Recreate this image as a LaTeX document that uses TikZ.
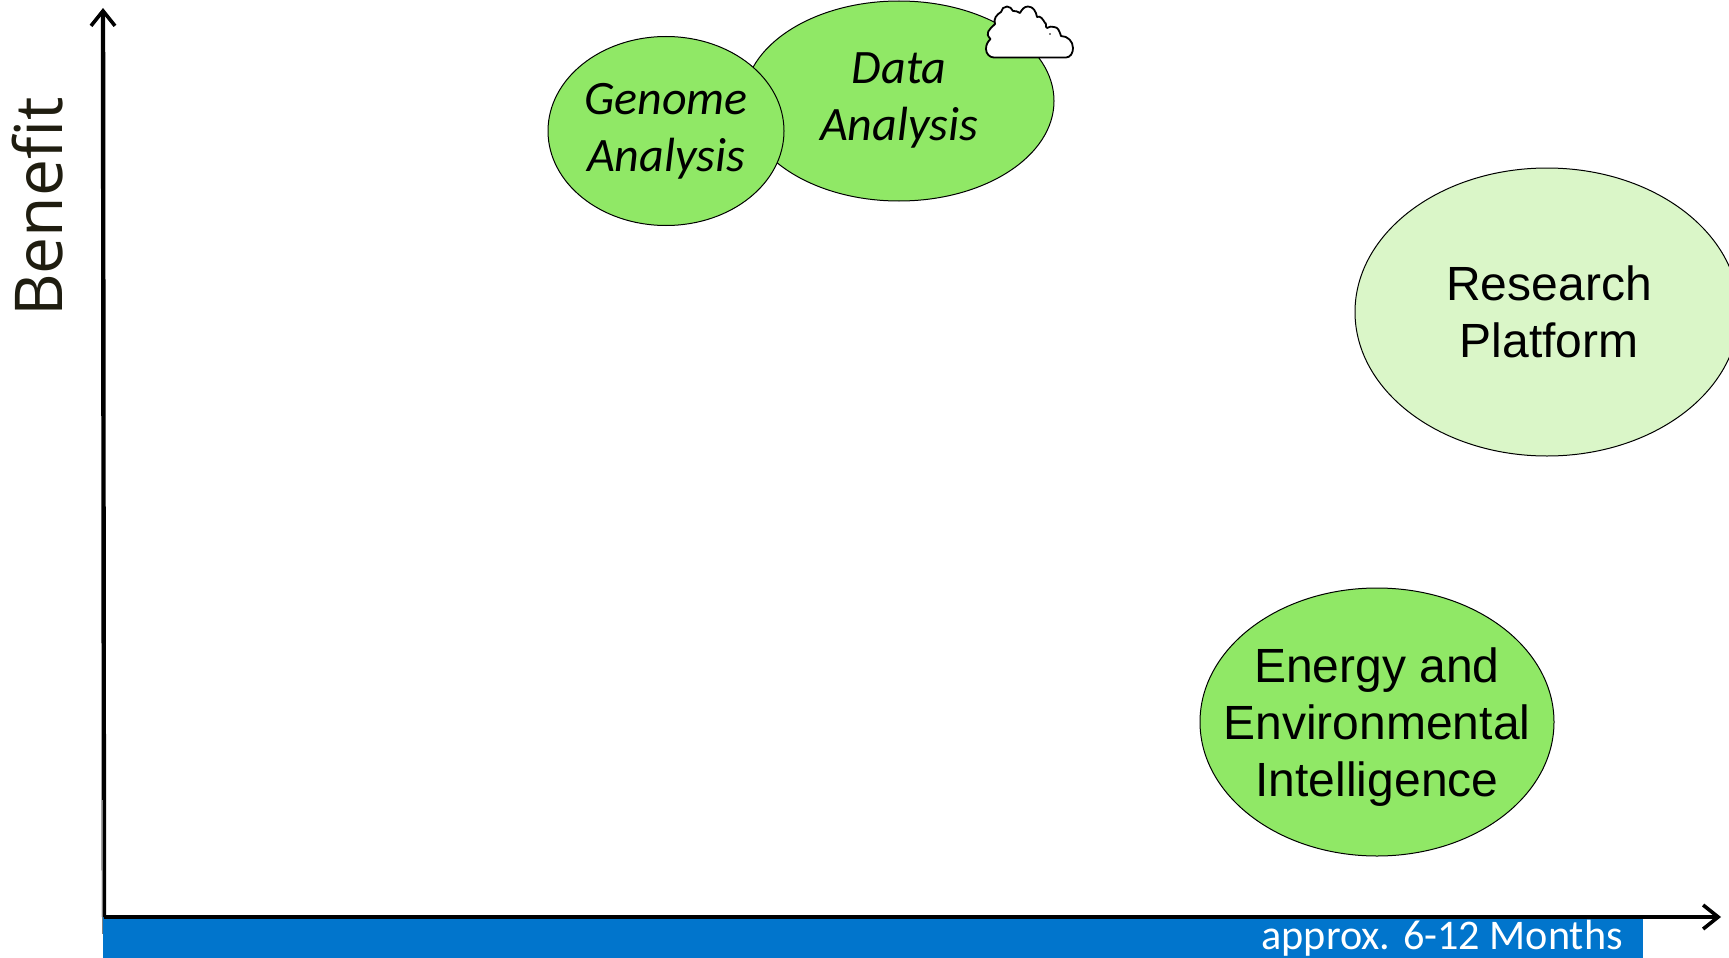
\documentclass[tikz,border=0pt]{standalone}
\usepackage{fontspec}
\setmainfont{Liberation Sans}
\newfontfamily\calib{Carlito}
\newfontfamily\openf{Open Sans}
\usetikzlibrary{arrows.meta,shapes.geometric}
\definecolor{bubgreen}{HTML}{90E866}
\definecolor{bubpale}{HTML}{DAF6C8}
\definecolor{barblue}{HTML}{0175CC}
\definecolor{labdark}{HTML}{1F1D10}
\tikzset{
  bubble/.style={ellipse,draw=black,line width=1pt,inner xsep=-40pt,inner ysep=-10pt,align=center},
  axisline/.style={line width=4.4pt,-{Straight Barb[length=15pt,width=24pt,line width=3.6pt]}},
  arialtext/.style={font=\fontsize{48}{57}\selectfont},
  calibtext/.style={font=\calib\itshape\fontsize{48}{57}\selectfont},
}
\begin{document}
\begin{tikzpicture}[x=1pt,y=-1pt]
\useasboundingbox (0,0) rectangle (1729,958);
\clip (0,0) rectangle (1729,958);
\node[draw=none,fill=barblue,minimum width=1540pt,minimum height=41pt,inner sep=0pt,anchor=north west] (bar) at (103,917) {};
\node[text=white,font=\calib\fontsize{42.2}{48}\selectfont,anchor=base east,inner sep=0pt] (months) at (1623,949.5) {approx. 6-12 Months};
\coordinate (o) at (104,917);
\coordinate (ytip) at (103,8);
\coordinate (xtip) at (1721,917);
\draw[axisline] (o) -- (ytip);
\draw[axisline] (o) -- (xtip);
\draw[gray,line width=1pt] (102,800) -- (102,934);
\node[rotate=90,text=labdark,font=\openf\fontsize{66}{70}\selectfont,anchor=base,inner sep=0pt] (benefit) at (62,207) {Benefit};
\node[bubble,fill=bubgreen,minimum width=310pt,minimum height=200pt,calibtext] (data) at (899,101) {\begin{tabular}{@{}c@{}}Data\\Analysis\end{tabular}};
\node[bubble,fill=bubgreen,minimum width=236pt,minimum height=189pt,calibtext] (genome) at (666,131) {Genome\\Analysis};
\node[bubble,fill=bubpale,minimum width=384pt,minimum height=288pt,arialtext] (research) at (1547,312) {\hspace*{4pt}Research\\\hspace*{4pt}Platform};
\node[bubble,fill=bubgreen,minimum width=354pt,minimum height=268pt,arialtext] (energy) at (1377,722) {\begin{tabular}{@{}c@{}}\rule{0pt}{53pt}Energy and\\Environmental\\Intelligence\end{tabular}};
\draw[fill=white,line width=1.8pt,line join=round]
  (994,57.5) to[out=180,in=270] (986,49) to[out=90,in=225] (990.5,39)
  to[out=135,in=225,looseness=1.4] (995,24)
  to[out=110,in=210] (1001,12) to[out=80,in=180] (1007,6.5) to[out=0,in=120] (1013,11) to[out=20,in=160] (1020,13)
  to[out=60,in=180] (1028,6.5) to[out=0,in=100] (1037,17)
  to[out=30,in=120] (1045,23) to[out=30,in=170] (1047,28)
  to[out=30,in=160] (1054,27) to[out=0,in=110] (1061,36)
  to[out=0,in=90] (1073,48) to[out=270,in=0] (1066,57.5) -- cycle;
\fill (1050,34) circle (0.8pt);
\end{tikzpicture}
\end{document}
